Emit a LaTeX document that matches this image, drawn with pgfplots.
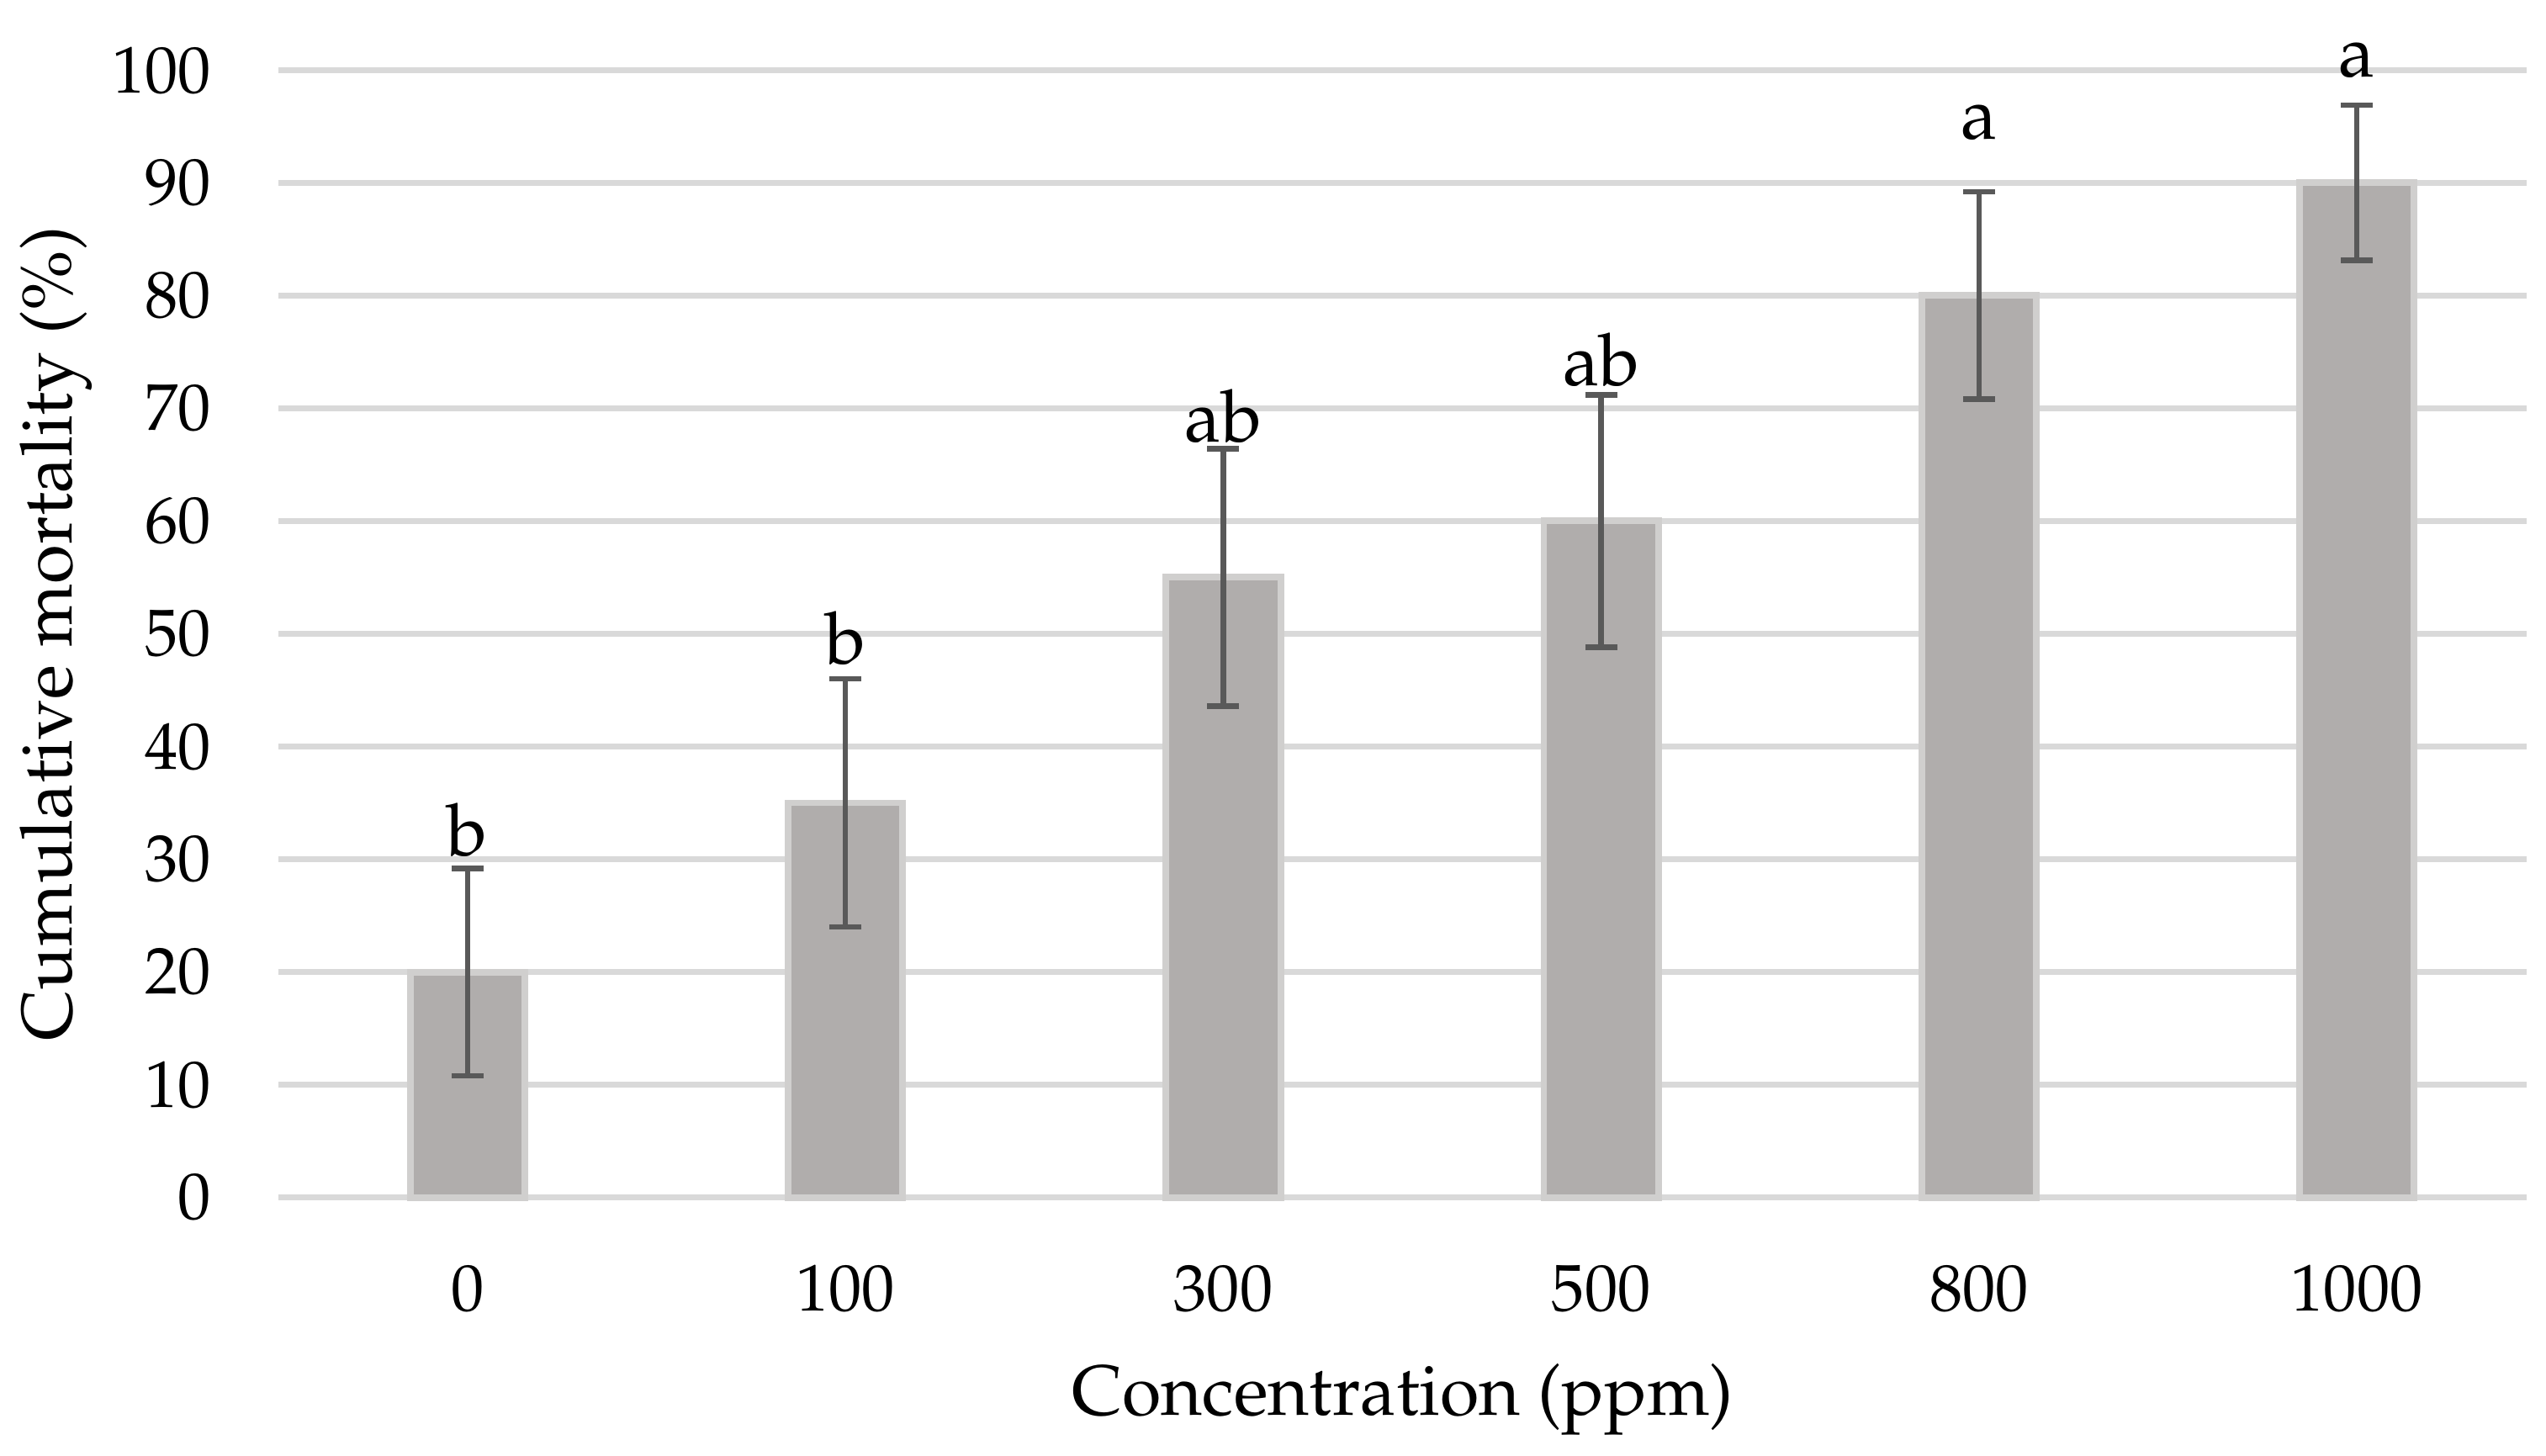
\documentclass[border=0pt]{standalone}
\usepackage[T1]{fontenc}
\usepackage{mathpazo}
\usepackage{pgfplots}
\pgfplotsset{compat=1.18}
\definecolor{barfill}{HTML}{B0ADAC}
\definecolor{barline}{HTML}{D0CFCE}
\definecolor{gridgray}{HTML}{D9D9D9}
\definecolor{errgray}{HTML}{595959}
\begin{document}
\begin{tikzpicture}
\useasboundingbox (-1.75,-1.62) rectangle (14.24,7.52);
\begin{axis}[
    scale only axis,
    width=14.12cm,
    height=7.08cm,
    xmin=-0.5, xmax=5.45,
    ymin=0, ymax=100,
    ytick={0,10,...,100},
    xtick=data,
    xticklabels={0,100,300,500,800,1000},
    axis line style={draw=none},
    major tick length=0pt,
    ymajorgrids=true,
    grid style={gridgray, line width=1pt},
    tick label style={font=\fontsize{11.8}{13}\selectfont},
    yticklabel style={xshift=-0.3cm},
    xticklabel style={yshift=-0.3cm},
    xlabel={\fontsize{12.7}{15}\selectfont Concentration (ppm)},
    ylabel={\fontsize{12.8}{15}\selectfont Cumulative mortality (\%)},
    every axis x label/.style={at={(axis description cs:0.5,0)}, yshift=-1.27cm, anchor=center},
    every axis y label/.style={at={(axis description cs:0,0.5)}, xshift=-1.4cm, rotate=90, anchor=center},
    clip=false,
]
\addplot[ybar, bar width=0.72cm, fill=barfill, draw=barline, line width=1.2pt,
    error bars/.cd, y dir=both, y explicit,
    error bar style={errgray, line width=1pt},
    error mark options={errgray, rotate=90, mark size=0.1cm, line width=1pt}]
coordinates {
    (0,20) +- (0,9.2)
    (1,35) +- (0,11)
    (2,55) +- (0,11.4)
    (3,60) +- (0,11.2)
    (4,80) +- (0,9.2)
    (5,90) +- (0,6.9)
};
% significance letters
\addplot[draw=none, nodes near coords, point meta=explicit symbolic,
    nodes near coords style={anchor=base, font=\fontsize{13}{15}\selectfont, inner sep=0pt}]
coordinates {
    (0,30.3) [b]
    (1,47.3) [b]
    (2,67.0) [ab]
    (3,72.0) [ab]
    (4,93.9) [a]
    (5,99.4) [a]
};
\end{axis}
\end{tikzpicture}
\end{document}
